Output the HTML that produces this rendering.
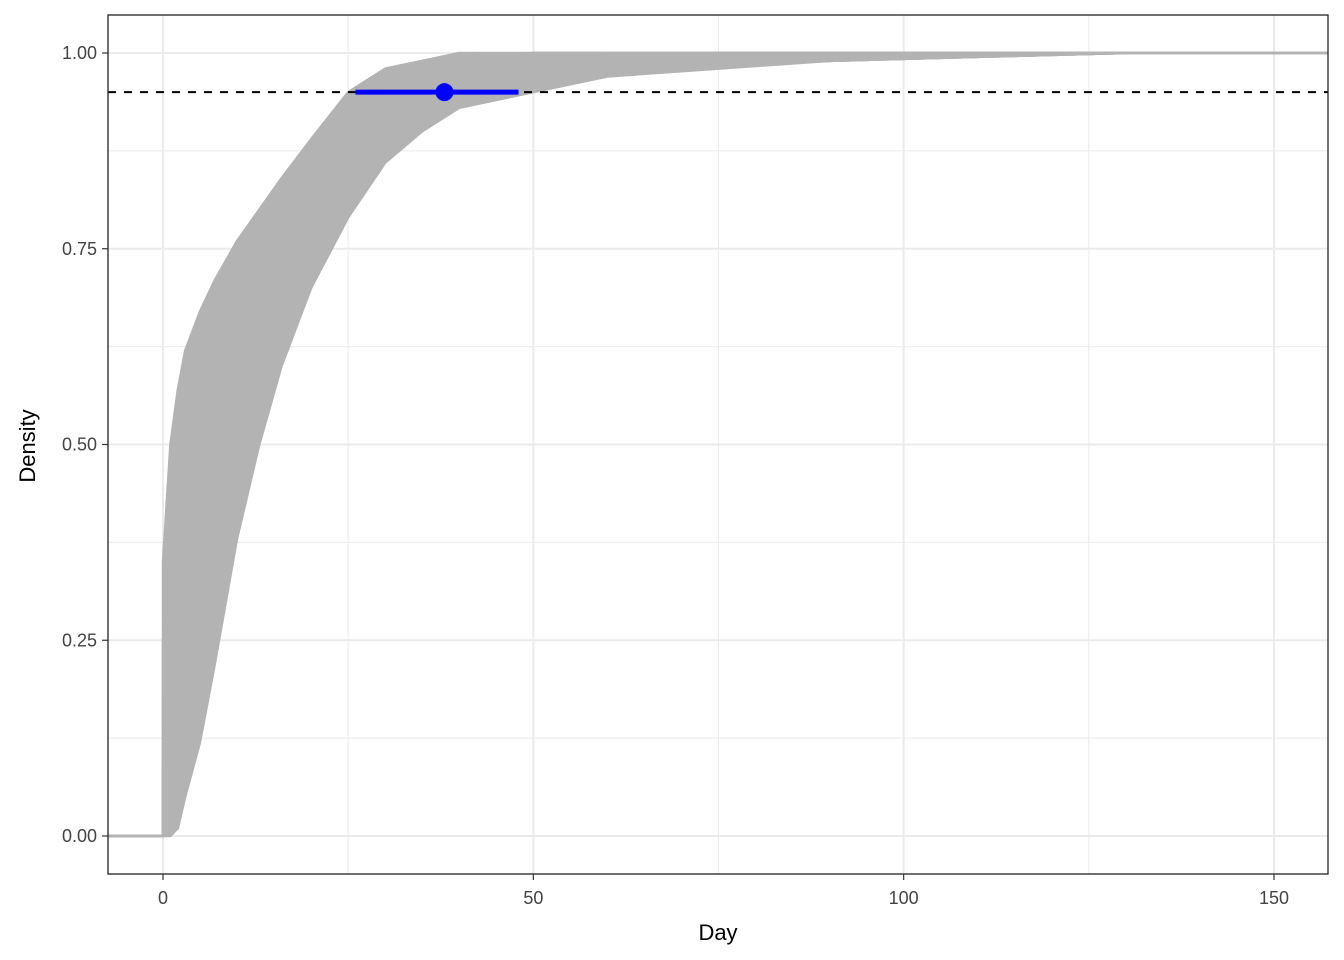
<!DOCTYPE html>
<html><head><meta charset="utf-8"><style>
body{margin:0;background:#fff}
svg{display:block;font-family:"Liberation Sans",Arial,sans-serif}
</style></head><body>
<svg id="chart" width="1344" height="960">
<defs><clipPath id="clip"><rect x="108" y="15" width="1220" height="859"/></clipPath></defs>
<rect x="108" y="15" width="1220" height="859" fill="#fff"/>
<g id="grid"></g>
<g id="curves" clip-path="url(#clip)"></g>
<g id="overlay" clip-path="url(#clip)"></g>
<rect x="108" y="15" width="1220" height="859" fill="none" stroke="#222" stroke-width="1.3"/>
<g id="axes"></g>
<text x="718" y="940" font-size="22" text-anchor="middle" fill="#000">Day</text>
<text transform="translate(35,446) rotate(-90)" font-size="22" text-anchor="middle" fill="#000">Density</text>
</svg>
<script>
const days=[0,1,2,3,5,7,10,13,16,20,25,30,35,40,50,60,75,90,110,130,160];
const curve1=[0.35,0.5,0.57,0.62,0.67,0.71,0.76,0.8,0.84,0.89,0.95,0.98,0.99,1,1,1,1,1,1,1,1];
const curve2=[0.25,0.42,0.5,0.56,0.63,0.68,0.74,0.79,0.83,0.88,0.94,0.97,0.985,0.995,1,1,1,1,1,1,1];
const curve3=[0.18,0.35,0.43,0.5,0.58,0.64,0.71,0.76,0.81,0.86,0.92,0.96,0.98,0.99,1,1,1,1,1,1,1];
const curve4=[0.12,0.28,0.37,0.44,0.53,0.6,0.68,0.74,0.79,0.85,0.91,0.95,0.97,0.985,0.995,1,1,1,1,1,1];
const curve5=[0.08,0.22,0.31,0.38,0.48,0.56,0.65,0.72,0.77,0.83,0.9,0.94,0.965,0.98,0.99,0.995,1,1,1,1,1];
const curve6=[0.05,0.17,0.26,0.33,0.43,0.52,0.62,0.69,0.75,0.82,0.89,0.93,0.955,0.97,0.985,0.99,0.995,1,1,1,1];
const curve7=[0.03,0.12,0.2,0.27,0.38,0.47,0.58,0.66,0.73,0.8,0.87,0.92,0.95,0.965,0.98,0.985,0.99,0.995,1,1,1];
const curve8=[0.02,0.08,0.15,0.22,0.33,0.42,0.54,0.63,0.7,0.78,0.86,0.91,0.94,0.955,0.975,0.98,0.985,0.99,0.995,1,1];
const curve9=[0.01,0.05,0.1,0.16,0.27,0.37,0.5,0.6,0.68,0.76,0.84,0.9,0.93,0.95,0.97,0.978,0.985,0.99,0.995,1,1];
const curve10=[0,0.02,0.05,0.1,0.2,0.31,0.45,0.56,0.65,0.74,0.82,0.88,0.92,0.94,0.96,0.975,0.982,0.99,0.995,1,1];
const curve11=[0,0,0.01,0.05,0.12,0.22,0.38,0.5,0.6,0.7,0.79,0.86,0.9,0.93,0.95,0.97,0.98,0.99,0.995,1,1];
const curves=[curve1,curve2,curve3,curve4,curve5,curve6,curve7,curve8,curve9,curve10,curve11];
const threshold=0.95;
const estDay=38, estLow=26, estHigh=48;
const xTicks=[0,50,100,150], xMinor=[25,75,125];
const yTicks=[0,0.25,0.5,0.75,1], yMinor=[0.125,0.375,0.625,0.875];
const yTickLabels=["0.00","0.25","0.50","0.75","1.00"];

const X=d=>163+d*(1274-163)/150;
const Y=v=>836-v*(836-53);
const NS="http://www.w3.org/2000/svg";
function mk(tag,attrs,parent){const e=document.createElementNS(NS,tag);for(const k in attrs)e.setAttribute(k,attrs[k]);document.getElementById(parent).appendChild(e);return e;}

xMinor.forEach(d=>{const l=mk('line',{x1:X(d),x2:X(d),y1:15,y2:874,stroke:'#ebebeb','stroke-width':1},'grid');

});
yMinor.forEach(v=>{const l=mk('line',{x1:108,x2:1328,y1:Y(v),y2:Y(v),stroke:'#ebebeb','stroke-width':1},'grid');

});
xTicks.forEach(d=>{const l=mk('line',{x1:X(d),x2:X(d),y1:15,y2:874,stroke:'#ebebeb','stroke-width':2},'grid');


const t=mk('line',{x1:X(d),x2:X(d),y1:874,y2:880,stroke:'#333','stroke-width':1.2},'axes');


const tx=mk('text',{x:X(d),y:904,'font-size':18,'text-anchor':'middle',fill:'#444'},'axes');tx.textContent=d;

});
yTicks.forEach((v,i)=>{const l=mk('line',{x1:108,x2:1328,y1:Y(v),y2:Y(v),stroke:'#ebebeb','stroke-width':2},'grid');


const t=mk('line',{x1:102,x2:108,y1:Y(v),y2:Y(v),stroke:'#333','stroke-width':1.2},'axes');


const tx=mk('text',{x:97,y:Y(v)+6,'font-size':18,'text-anchor':'end',fill:'#444'},'axes');tx.textContent=yTickLabels[i];

});

// filled band between extreme curves
const first=curves[0], last=curves[curves.length-1];
let bd='M'+X(0)+','+Y(0);
first.forEach((v,j)=>{bd+=' L'+X(days[j])+','+Y(v);});
for(let j=last.length-1;j>=0;j--){bd+=' L'+X(days[j])+','+Y(last[j]);}
bd+=' Z';
const band=mk('path',{d:bd,fill:'#b3b3b3',stroke:'none'},'curves');



curves.forEach((c,i)=>{let d='M'+X(-10)+','+Y(0)+' L'+X(0)+','+Y(0);
c.forEach((v,j)=>{d+=' L'+X(days[j])+','+Y(v);});
const p=mk('path',{d:d,fill:'none',stroke:'#b3b3b3','stroke-width':2.5,'stroke-linejoin':'round'},'curves');

});

const dl=mk('line',{x1:108,x2:1328,y1:Y(threshold),y2:Y(threshold),stroke:'#000','stroke-width':2,'stroke-dasharray':'8,8'},'overlay');


const ci=mk('line',{x1:X(estLow),x2:X(estHigh),y1:Y(threshold),y2:Y(threshold),stroke:'#0000ff','stroke-width':5},'overlay');


const pt=mk('circle',{cx:X(estDay),cy:Y(threshold),r:9,fill:'#0000ff'},'overlay');


</script>
</body></html>
